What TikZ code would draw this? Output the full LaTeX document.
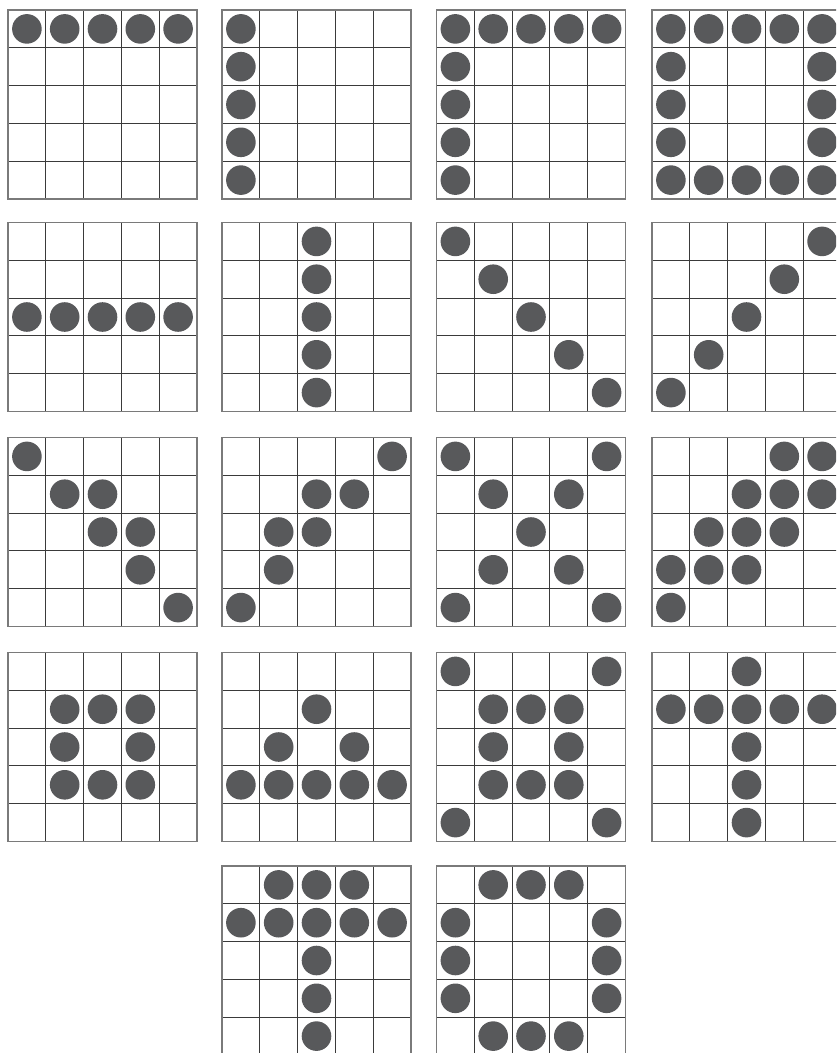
\documentclass[tikz,border=0pt]{standalone}
\definecolor{dotgray}{HTML}{58595B}
\definecolor{outergray}{HTML}{7A7A7A}
\definecolor{innergray}{HTML}{3A3A3A}
\tikzset{
  gridline/.style={draw=innergray, line width=1pt},
  outerline/.style={draw=outergray, line width=1.4pt},
  dot/.style={fill=dotgray}
}
\newcommand{\pgrid}[3]{%
  \begin{scope}[shift={(#1,#2)}]
    \foreach \i in {1,...,4} {
      \draw[gridline] (\i*37.8,0) -- (\i*37.8,189);
      \draw[gridline] (0,\i*37.8) -- (189,\i*37.8);
    }
    \draw[outerline] (0,0) rectangle (189,189);
    \foreach \r/\c in {#3} {
      \fill[dot] ({(\c+0.5)*37.8},{(\r+0.5)*37.8}) circle[radius=14.8pt];
    }
  \end{scope}}
\begin{document}
\begin{tikzpicture}[x=1pt,y=-1pt]
\useasboundingbox (0,0) rectangle (836,1053);
\clip (0,0) rectangle (836,1053);
\fill[white] (0,0) rectangle (836,1053);
% row 1
\pgrid{8}{10}{0/0,0/1,0/2,0/3,0/4}
\pgrid{222}{10}{0/0,1/0,2/0,3/0,4/0}
\pgrid{436.5}{10}{0/0,0/1,0/2,0/3,0/4,1/0,2/0,3/0,4/0}
\pgrid{652}{10}{0/0,0/1,0/2,0/3,0/4,1/0,2/0,3/0,4/0,1/4,2/4,3/4,4/1,4/2,4/3,4/4}
% row 2
\pgrid{8}{222.5}{2/0,2/1,2/2,2/3,2/4}
\pgrid{222}{222.5}{0/2,1/2,2/2,3/2,4/2}
\pgrid{436.5}{222.5}{0/0,1/1,2/2,3/3,4/4}
\pgrid{652}{222.5}{0/4,1/3,2/2,3/1,4/0}
% row 3
\pgrid{8}{437.5}{0/0,1/1,1/2,2/2,2/3,3/3,4/4}
\pgrid{222}{437.5}{0/4,1/2,1/3,2/1,2/2,3/1,4/0}
\pgrid{436.5}{437.5}{0/0,0/4,1/1,1/3,2/2,3/1,3/3,4/0,4/4}
\pgrid{652}{437.5}{0/3,0/4,1/2,1/3,1/4,2/1,2/2,2/3,3/0,3/1,3/2,4/0}
% row 4
\pgrid{8}{652.5}{1/1,1/2,1/3,2/1,2/3,3/1,3/2,3/3}
\pgrid{222}{652.5}{1/2,2/1,2/3,3/0,3/1,3/2,3/3,3/4}
\pgrid{436.5}{652.5}{0/0,0/4,1/1,1/2,1/3,2/1,2/3,3/1,3/2,3/3,4/0,4/4}
\pgrid{652}{652.5}{0/2,1/0,1/1,1/2,1/3,1/4,2/2,3/2,4/2}
% row 5
\pgrid{222}{866}{0/1,0/2,0/3,1/0,1/1,1/2,1/3,1/4,2/2,3/2,4/2}
\pgrid{436.5}{866}{0/1,0/2,0/3,1/0,1/4,2/0,2/4,3/0,3/4,4/1,4/2,4/3}
\end{tikzpicture}
\end{document}
